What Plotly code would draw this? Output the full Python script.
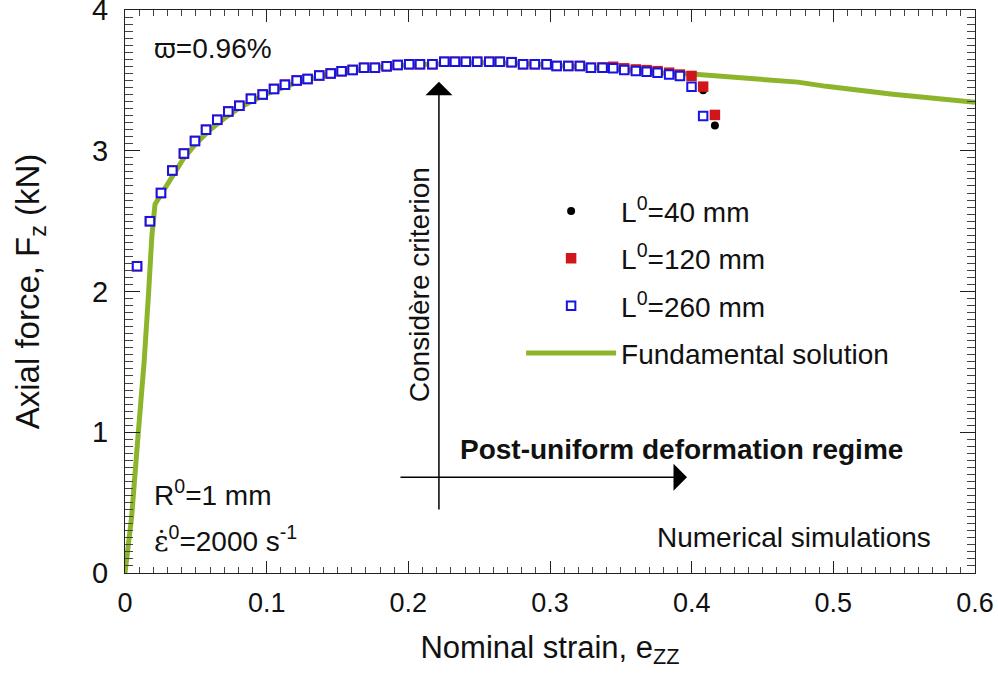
import plotly.graph_objects as go

# ---------------- data ----------------
fund_strain = [0.0, 0.0047, 0.0094, 0.0135, 0.0167, 0.019, 0.0212, 0.025, 0.0318, 0.041, 0.05,
               0.06, 0.07, 0.08, 0.09, 0.10, 0.12, 0.14, 0.16, 0.18, 0.20, 0.22, 0.25, 0.28,
               0.30, 0.32, 0.34, 0.36, 0.38, 0.40, 0.448, 0.475, 0.495, 0.542, 0.60]
fund_force = [0.0, 0.4, 1.0, 1.5, 2.0, 2.4, 2.62, 2.68, 2.79, 2.94, 3.05,
              3.15, 3.23, 3.30, 3.355, 3.405, 3.48, 3.535, 3.57, 3.595, 3.61, 3.62, 3.628, 3.62,
              3.61, 3.60, 3.585, 3.57, 3.552, 3.545, 3.508, 3.488, 3.458, 3.402, 3.345]

strain_grid = [0.0085, 0.0176, 0.0254, 0.0334, 0.0416, 0.0494, 0.0572, 0.0651, 0.0729, 0.0807,
               0.0889, 0.0972, 0.1052, 0.1129, 0.1212, 0.1289, 0.1371, 0.1452, 0.1529, 0.1607,
               0.1687, 0.1764, 0.1847, 0.1925, 0.2006, 0.2082, 0.2170, 0.2254, 0.2329, 0.2406,
               0.2486, 0.2571, 0.2646, 0.2729, 0.2810, 0.2893, 0.2976, 0.3047, 0.3129, 0.3211,
               0.3289, 0.3371, 0.3446, 0.3524, 0.3606, 0.3682, 0.3759, 0.3841, 0.3917, 0.3999,
               0.4081, 0.4164]

force_260 = [2.18, 2.50, 2.70, 2.86, 2.98, 3.07, 3.15, 3.22, 3.28, 3.32,
             3.37, 3.40, 3.44, 3.47, 3.50, 3.51, 3.535, 3.55, 3.565, 3.575,
             3.59, 3.59, 3.60, 3.61, 3.615, 3.615, 3.615, 3.633, 3.633, 3.633,
             3.633, 3.633, 3.633, 3.63, 3.615, 3.615, 3.615, 3.603, 3.603, 3.603,
             3.59, 3.59, 3.586, 3.574, 3.567, 3.562, 3.555, 3.543, 3.532, 3.456,
             3.248]

force_120 = [2.18, 2.50, 2.70, 2.86, 2.98, 3.07, 3.15, 3.22, 3.28, 3.32,
             3.37, 3.40, 3.44, 3.47, 3.50, 3.51, 3.535, 3.55, 3.565, 3.575,
             3.59, 3.59, 3.60, 3.61, 3.615, 3.615, 3.615, 3.633, 3.633, 3.633,
             3.633, 3.633, 3.633, 3.63, 3.615, 3.615, 3.615, 3.603, 3.603, 3.603,
             3.59, 3.592, 3.597, 3.586, 3.578, 3.573, 3.566, 3.555, 3.542, 3.532,
             3.456, 3.255]

force_40 = [2.18, 2.50, 2.70, 2.86, 2.98, 3.07, 3.15, 3.22, 3.28, 3.32,
            3.37, 3.40, 3.44, 3.47, 3.50, 3.51, 3.535, 3.55, 3.565, 3.575,
            3.59, 3.59, 3.60, 3.61, 3.615, 3.615, 3.615, 3.633, 3.633, 3.633,
            3.633, 3.633, 3.633, 3.63, 3.615, 3.615, 3.615, 3.603, 3.603, 3.603,
            3.59, 3.59, 3.595, 3.584, 3.576, 3.571, 3.564, 3.553, 3.54, 3.53,
            3.43, 3.18]

x_ticks = [0, 0.1, 0.2, 0.3, 0.4, 0.5, 0.6]
x_ticklabels = ["0", "0.1", "0.2", "0.3", "0.4", "0.5", "0.6"]
y_ticks = [0, 1, 2, 3, 4]
y_ticklabels = ["0", "1", "2", "3", "4"]

# ---------------- styles ----------------
FONT = "Liberation Sans, Arial, Helvetica, sans-serif"
GREEN = "#8db52c"
BLUE = "#1414e6"
RED = "#d0161b"
TXT = "#111111"

fig = go.Figure()

fig.add_trace(go.Scatter(
    x=fund_strain, y=fund_force, mode="lines", name="Fundamental solution",
    line=dict(color=GREEN, width=5), legendrank=4, legendgroup="g4"))

fig.add_trace(go.Scatter(
    x=strain_grid, y=force_40, mode="markers", name="L<sup>0</sup>=40 mm",
    marker=dict(symbol="circle", size=8, color="black"), legendrank=1, legendgroup="g1"))

fig.add_trace(go.Scatter(
    x=strain_grid, y=force_120, mode="markers", name="L<sup>0</sup>=120 mm",
    marker=dict(symbol="square", size=10.5, color=RED, line=dict(width=0)),
    legendrank=2, legendgroup="g2"))

fig.add_trace(go.Scatter(
    x=strain_grid[:len(force_260)], y=force_260, mode="markers", name="L<sup>0</sup>=260 mm",
    marker=dict(symbol="square", size=8.5, color="white", line=dict(color=BLUE, width=2)),
    legendrank=3, legendgroup="g3"))

ann_font = dict(family=FONT, size=28, color=TXT)

annotations = [
    dict(x=0.019, y=3.73, text="ϖ=0.96%", xanchor="left", yanchor="middle", showarrow=False, font=ann_font),
    dict(x=0.019, y=0.57, text="R<sup>0</sup>=1 mm", xanchor="left", yanchor="middle", showarrow=False, font=ann_font),
    dict(x=0.019, y=0.24,
         text="<span style=\"font-family:DejaVu Serif\">ε\u0307</span><sup>0</sup>=2000 s<sup>-1</sup>",
         xanchor="left", yanchor="middle", showarrow=False, font=ann_font),
    dict(x=0.208, y=2.05, text="Considère criterion", textangle=-90, xanchor="center", yanchor="middle",
         showarrow=False, font=ann_font),
    dict(x=0.3925, y=0.88, text="<b>Post-uniform deformation regime</b>", xanchor="center", yanchor="middle",
         showarrow=False, font=ann_font),
    dict(x=0.5705, y=0.25, text="Numerical simulations", xanchor="right", yanchor="middle",
         showarrow=False, font=ann_font),
    # arrows
    dict(x=0.2216, y=3.49, ax=0.2216, ay=0.44, xref="x", yref="y", axref="x", ayref="y", text="",
         showarrow=True, arrowhead=1, arrowsize=3, arrowwidth=1.5, arrowcolor="black", standoff=0),
    dict(x=0.3967, y=0.68, ax=0.1934, ay=0.68, xref="x", yref="y", axref="x", ayref="y", text="",
         showarrow=True, arrowhead=1, arrowsize=3, arrowwidth=1.5, arrowcolor="black", standoff=0),
]

fig.update_layout(
    width=998, height=684,
    margin=dict(l=125, r=23, t=10, b=111),
    paper_bgcolor="white", plot_bgcolor="white",
    font=dict(family=FONT, size=28, color=TXT),
    showlegend=True,
    legend=dict(x=0.466, y=0.687, xanchor="left", yanchor="top", bgcolor="rgba(0,0,0,0)",
                font=dict(family=FONT, size=28, color=TXT), itemwidth=90,
                tracegroupgap=8, traceorder="grouped"),
    annotations=annotations,
)

fig.update_xaxes(
    range=[0, 0.6], tickvals=x_ticks, ticktext=x_ticklabels, automargin=False,
    showline=True, linecolor="#222222", linewidth=1, mirror="ticks",
    ticks="inside", ticklen=12, tickwidth=1, tickcolor="#222222",
    minor=dict(dtick=0.01, ticks="inside", ticklen=6, tickcolor="#444444"),
    showgrid=False, zeroline=False,
    tickfont=dict(family=FONT, size=27, color=TXT), ticklabelstandoff=6,
    title=dict(text="Nominal strain, e<sub>ZZ</sub>", font=dict(family=FONT, size=31, color=TXT),
               standoff=18),
)
fig.update_yaxes(
    range=[0, 4.0005], tickvals=y_ticks, ticktext=y_ticklabels, automargin=False,
    ticklabeloverflow="allow",
    showline=True, linecolor="#222222", linewidth=1, mirror="ticks",
    ticks="inside", ticklen=15, tickwidth=1, tickcolor="#222222",
    minor=dict(dtick=0.05, ticks="inside", ticklen=8, tickcolor="#444444"),
    showgrid=False, zeroline=False,
    tickfont=dict(family=FONT, size=29, color=TXT), ticklabelstandoff=10,
    title=dict(text="Axial force, F<sub>z</sub> (kN)", font=dict(family=FONT, size=33, color=TXT),
               standoff=42),
)

fig.write_html("out.html")
